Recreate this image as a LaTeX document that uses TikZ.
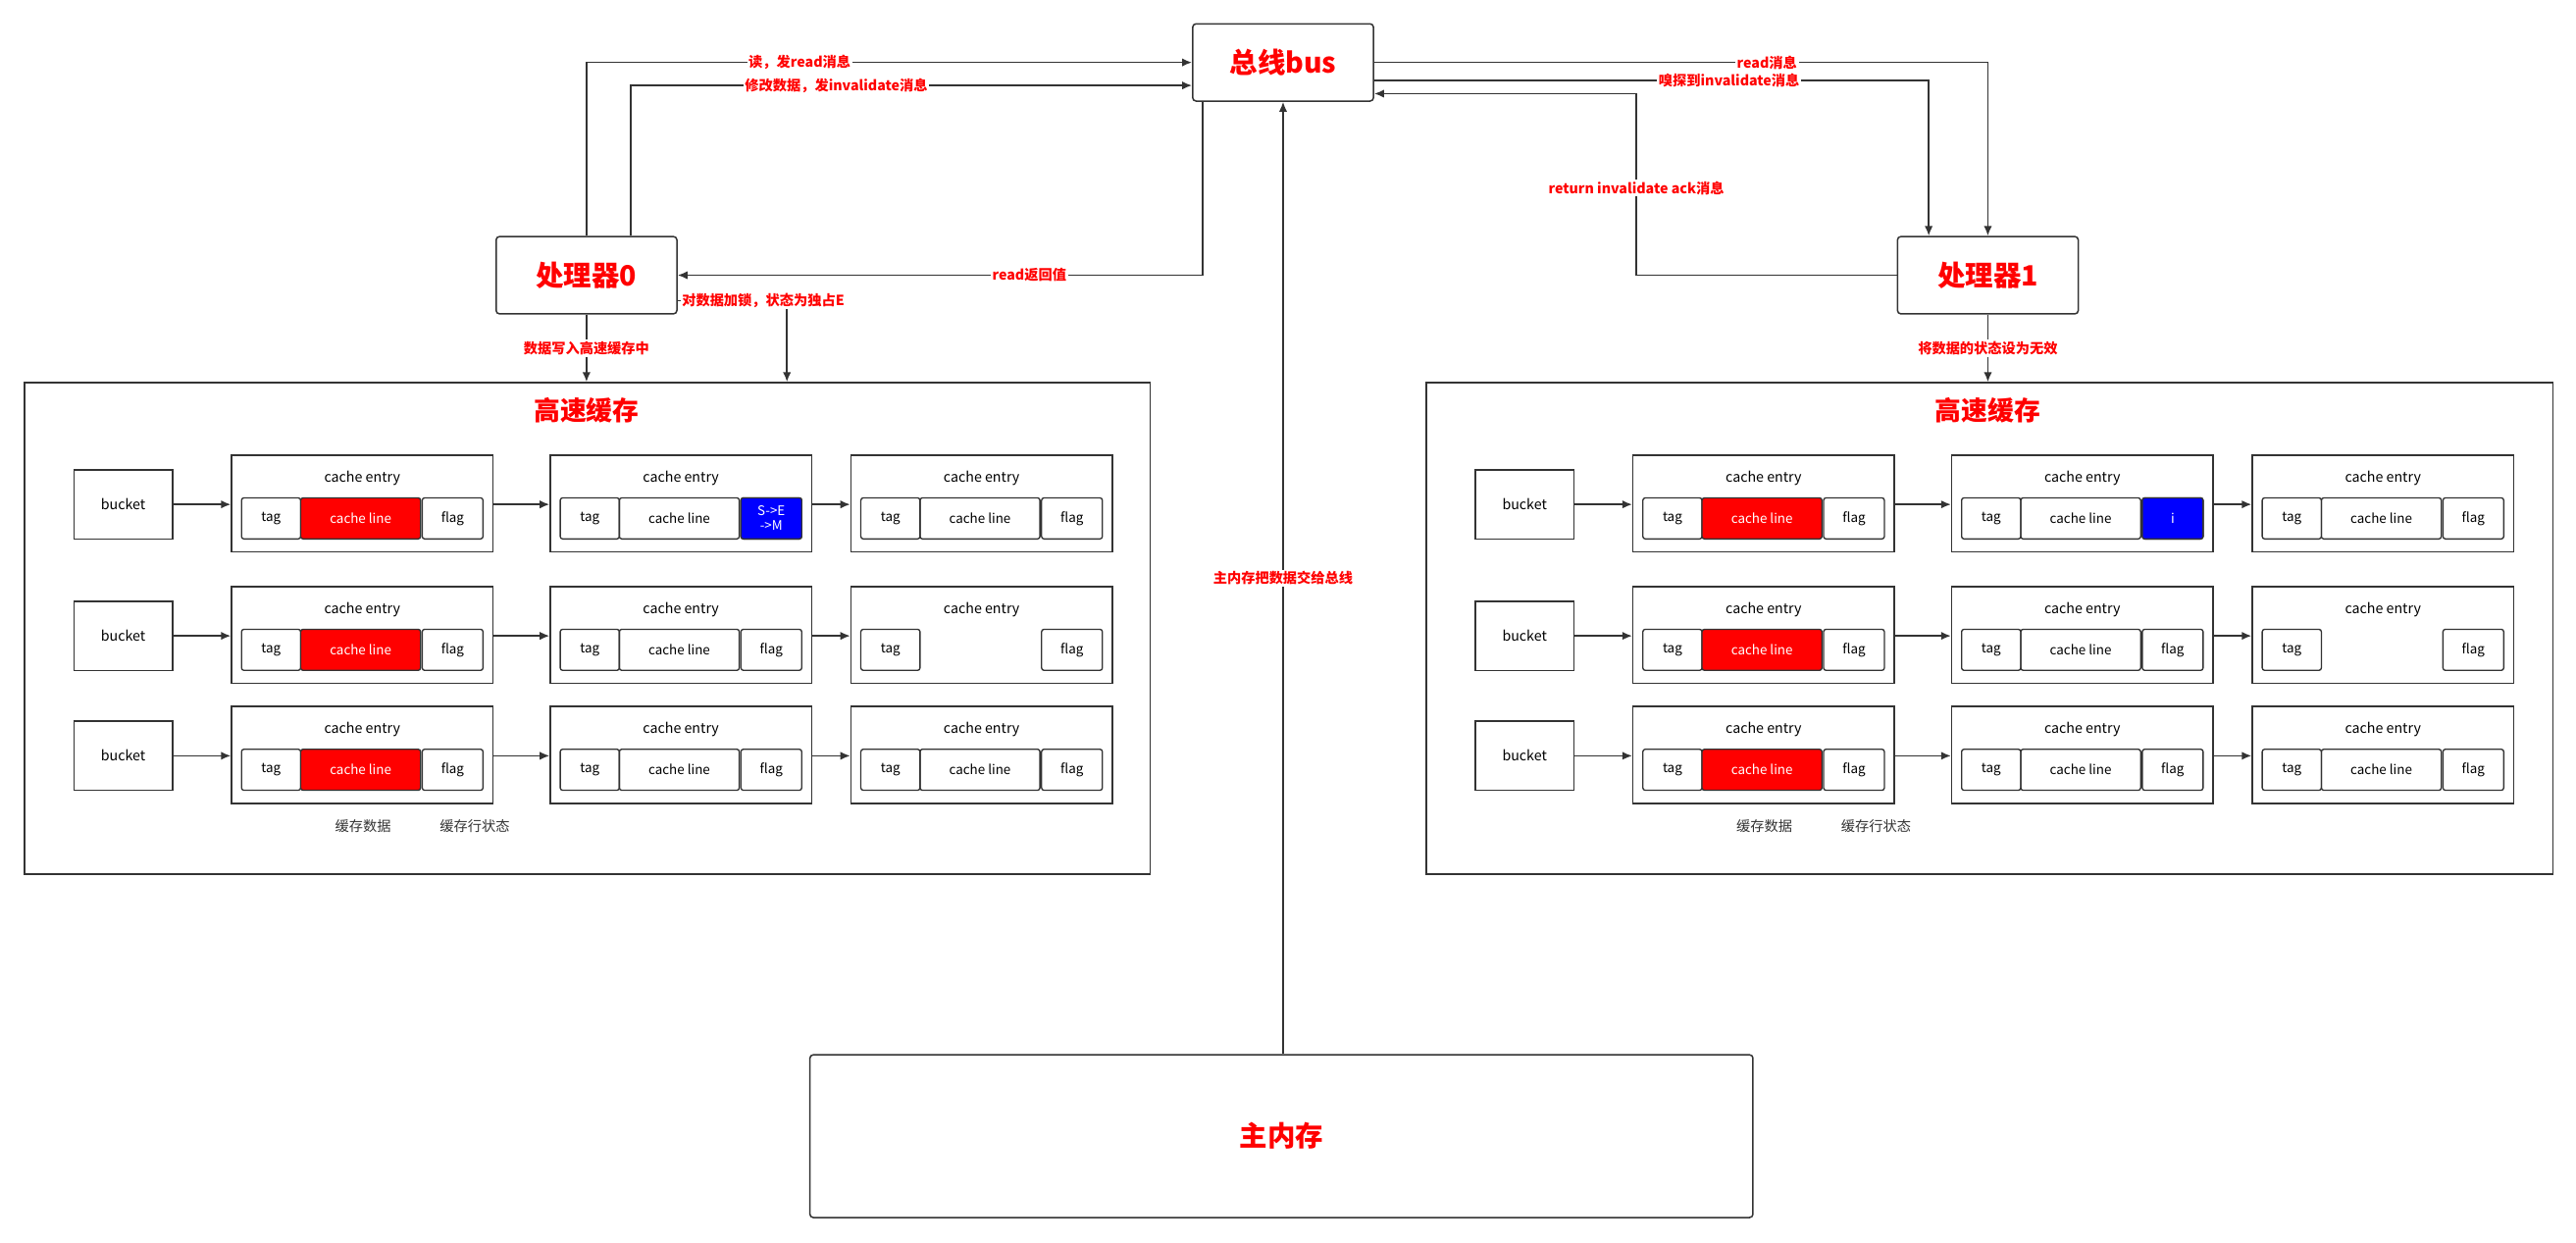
\documentclass[tikz,border=0pt]{standalone}
\usepackage{fontspec}
\setmainfont{Noto Sans CJK SC}
\usetikzlibrary{arrows.meta}
\definecolor{ln}{HTML}{333333}
\begin{document}
\begin{tikzpicture}[x=1pt,y=-1pt,
  box/.style={draw=ln,line width=0.9,rounded corners=2,fill=white,inner sep=0},
  big/.style={box,text=red,font=\fontsize{17}{20}\selectfont\bfseries},
  cont/.style={draw=ln,line width=1,inner sep=0},
  entry/.style={draw=ln,line width=0.9,minimum width=159,minimum height=59,inner sep=0},
  bucket/.style={draw=ln,line width=0.9,minimum width=60,minimum height=42,inner sep=0,font=\fontsize{8.5}{10}\selectfont},
  cell/.style={draw=ln,line width=0.8,rounded corners=1.5,minimum height=25,inner sep=0,font=\fontsize{8}{9}\selectfont},
  txt/.style={font=\fontsize{8.5}{10}\selectfont,inner sep=0},
  lab/.style={fill=white,text=red,inner sep=1,font=\fontsize{8.5}{10}\selectfont\bfseries},
  arr/.style={draw=ln,line width=1,-{Latex[length=6,width=5]}}]
\useasboundingbox (0,0) rectangle (1568,756);
% main boxes
\node[big,minimum width=110,minimum height=47] (bus) at (781,38) {总线bus};
\node[big,minimum width=110,minimum height=47] (p0) at (357,167.5) {处理器0};
\node[big,minimum width=110,minimum height=47] (p1) at (1210,167.5) {处理器1};
\node[big,minimum width=574,minimum height=99] (mem) at (780,691.5) {主内存};
\node[cont,minimum width=685,minimum height=299] (cL) at (357.5,382.5) {};
\node[cont,minimum width=686,minimum height=299] (cR) at (1211,382.5) {};
% caches
\foreach \s/\dx in {L/0,R/853}{
  \node[text=red,font=\fontsize{16}{19}\selectfont\bfseries] (\s-title) at (357+\dx,250) {高速缓存};
  \node[txt,text=ln] (\s-d1) at (221+\dx,503) {缓存数据};
  \node[txt,text=ln] (\s-d2) at (289+\dx,503) {缓存行状态};
  \foreach \r/\T in {1/277,2/357,3/430}{
    \node[bucket] (\s-b\r) at (75+\dx,\T+30) {bucket};
    \foreach \c/\L in {1/141,2/335,3/518}{
      \node[entry] (\s-e\r\c) at (\L+\dx+79.5,\T+29.5) {};
      \node[txt] (\s-h\r\c) at (\L+\dx+79.5,\T+14) {cache entry};
      \node[cell,minimum width=36] (\s-t\r\c) at (\L+\dx+24,\T+38.5) {tag};
      \node[cell,minimum width=37] (\s-f\r\c) at (\L+\dx+134.5,\T+38.5) {flag};
      \ifnum\r\c=23 \else
        \ifnum\c=1
          \node[cell,minimum width=73,fill=red,text=white] (\s-l\r\c) at (\L+\dx+78.5,\T+38.5) {cache line};
        \else
          \node[cell,minimum width=73] (\s-l\r\c) at (\L+\dx+78.5,\T+38.5) {cache line};
        \fi
      \fi
    }
    \draw[arr] (\s-b\r.east) -- (\s-b\r.east -| \s-e\r1.west);
    \draw[arr] (\s-e\r1.east |- \s-b\r.east) -- (\s-b\r.east -| \s-e\r2.west);
    \draw[arr] (\s-e\r2.east |- \s-b\r.east) -- (\s-b\r.east -| \s-e\r3.west);
  }
}
\node[cell,minimum width=37,fill=blue,text=white,align=center,font=\fontsize{8}{9}\selectfont] (L-blue) at (L-f12) {S->E\\->M};
\node[cell,minimum width=37,fill=blue,text=white] (R-blue) at (R-f12) {i};
% connectors
\coordinate (a1) at (357,38);
\coordinate (a2) at (384,52);
\draw[arr] (p0.north -| a1) |- (bus.west |- a1) node[lab,pos=0.676] {读，发read消息};
\draw[arr] (p0.north -| a2) |- (bus.west |- a2) node[lab,pos=0.683] {修改数据，发invalidate消息};
\coordinate (b1) at (1210,38);
\coordinate (b2) at (1174,49);
\draw[arr] (bus.east |- b1) -| (p1.north -| b1) node[lab,pos=0.32] {read消息};
\draw[arr] (bus.east |- b2) -| (p1.north -| b2) node[lab,pos=0.32] {嗅探到invalidate消息};
\coordinate (c1) at (996,57);
\draw[arr] (p1.west) -| (c1) node[lab,pos=0.74] {return invalidate ack消息} -- (bus.east |- c1);
\coordinate (d1) at (732,167.5);
\draw[arr] (bus.south -| d1) -- (d1) -- (p0.east) node[lab,pos=0.33] {read返回值};
\coordinate (e1) at (479,183);
\draw[arr] (p0.east |- e1) -| (cL.north -| e1);
\node[lab,anchor=west,inner sep=0.5] (lk) at ([xshift=2pt]p0.east |- e1) {对数据加锁，状态为独占E};
\draw[arr] (p0.south) -- (cL.north -| p0.south) node[lab,midway] {数据写入高速缓存中};
\draw[arr] (p1.south) -- (cR.north -| p1.south) node[lab,midway] {将数据的状态设为无效};
\draw[arr] (mem.north -| 781,0) -- (bus.south) node[lab,pos=0.5] {主内存把数据交给总线};
\end{tikzpicture}
\end{document}
